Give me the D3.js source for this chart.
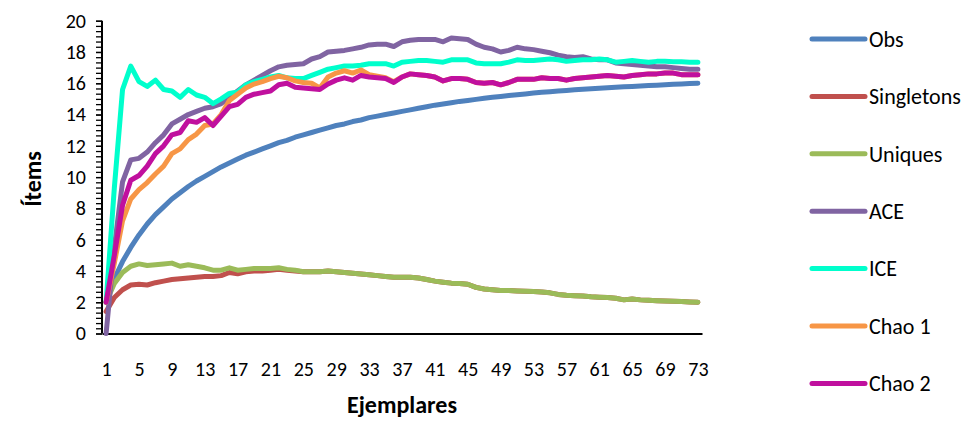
<!DOCTYPE html>
<html>
<head>
<meta charset="utf-8">
<script src="https://cdn.jsdelivr.net/npm/d3@7"></script>
<style>
	body { margin: 0; background: #fff; }
	text { font-family: Carlito, Lato, "Open Sans", sans-serif; fill: #000; }
	.axis-title { font-weight: bold; font-size: 24px; }
</style>
</head>
<body>
<div id="chart"></div>
<script>
// data
const ejemplares = d3.range(1, 74);
const xTickLabels = d3.range(1, 74, 4);
const yTickLabels = d3.range(0, 21, 2);
const seriesNames = ["Obs", "Singletons", "Uniques", "ACE", "ICE", "Chao 1", "Chao 2"];
const seriesColors = ["#4F81BD", "#C0504D", "#9BBB59", "#8064A2", "#00FFCC", "#F79646", "#C0109E"];

const obs = [2.0, 3.5, 4.6, 5.5, 6.3, 7.0, 7.6, 8.1, 8.6, 9.0, 9.4, 9.75, 10.05, 10.35, 10.65, 10.9, 11.15, 11.4, 11.6, 11.8,
	12.0, 12.2, 12.35, 12.55, 12.7, 12.85, 13.0, 13.15, 13.3, 13.4, 13.55, 13.65, 13.8, 13.9, 14.0, 14.1, 14.2, 14.3, 14.4, 14.5,
	14.6, 14.68, 14.76, 14.84, 14.9, 14.97, 15.04, 15.1, 15.16, 15.22, 15.27, 15.32, 15.37, 15.42, 15.46, 15.5, 15.54, 15.58, 15.62, 15.65,
	15.68, 15.71, 15.74, 15.77, 15.8, 15.83, 15.86, 15.88, 15.91, 15.94, 15.96, 15.98, 16.0];

const singletons = [1.4, 2.3, 2.8, 3.1, 3.15, 3.1, 3.25, 3.35, 3.45, 3.5, 3.55, 3.6, 3.65, 3.65, 3.7, 3.9, 3.82, 3.95, 4.0, 4.0,
	4.05, 4.1, 4.05, 4.0, 3.95, 3.95, 3.95, 4.0, 3.95, 3.9, 3.85, 3.8, 3.75, 3.7, 3.65, 3.6, 3.6, 3.6, 3.55, 3.45,
	3.35, 3.28, 3.22, 3.2, 3.15, 2.95, 2.85, 2.8, 2.75, 2.75, 2.72, 2.7, 2.68, 2.65, 2.6, 2.5, 2.45, 2.42, 2.4, 2.35,
	2.32, 2.3, 2.25, 2.15, 2.2, 2.15, 2.12, 2.1, 2.08, 2.06, 2.04, 2.02, 2.0];

const uniques = [2.0, 3.2, 3.9, 4.3, 4.45, 4.35, 4.4, 4.45, 4.5, 4.3, 4.4, 4.3, 4.2, 4.05, 4.05, 4.2, 4.05, 4.1, 4.15, 4.15,
	4.15, 4.2, 4.1, 4.05, 3.95, 3.95, 3.95, 4.0, 3.95, 3.9, 3.85, 3.8, 3.75, 3.7, 3.65, 3.6, 3.6, 3.6, 3.55, 3.45,
	3.35, 3.28, 3.22, 3.2, 3.15, 2.95, 2.85, 2.8, 2.75, 2.75, 2.72, 2.7, 2.68, 2.65, 2.6, 2.5, 2.45, 2.42, 2.4, 2.35,
	2.32, 2.3, 2.25, 2.15, 2.2, 2.15, 2.12, 2.1, 2.08, 2.06, 2.04, 2.02, 2.0];

const ace = [0, 5.5, 9.7, 11.1, 11.2, 11.6, 12.2, 12.7, 13.4, 13.7, 14.0, 14.2, 14.4, 14.5, 14.7, 15.1, 15.5, 15.9, 16.2, 16.5,
	16.8, 17.05, 17.15, 17.2, 17.25, 17.55, 17.7, 18.0, 18.05, 18.1, 18.2, 18.3, 18.45, 18.5, 18.5, 18.35, 18.65, 18.75, 18.8, 18.8,
	18.8, 18.65, 18.9, 18.85, 18.8, 18.5, 18.3, 18.2, 18.0, 18.1, 18.3, 18.2, 18.15, 18.05, 17.95, 17.8, 17.7, 17.65, 17.7, 17.55,
	17.5, 17.5, 17.3, 17.25, 17.2, 17.15, 17.1, 17.05, 17.05, 17.0, 16.95, 16.9, 16.9];

const ice = [2.0, 9.3, 15.6, 17.1, 16.1, 15.8, 16.2, 15.6, 15.5, 15.1, 15.6, 15.25, 15.1, 14.7, 15.0, 15.35, 15.45, 15.9, 16.1, 16.25,
	16.4, 16.5, 16.35, 16.3, 16.3, 16.5, 16.7, 16.9, 17.0, 17.1, 17.1, 17.15, 17.25, 17.25, 17.25, 17.1, 17.35, 17.4, 17.45, 17.45,
	17.4, 17.35, 17.5, 17.5, 17.5, 17.3, 17.25, 17.25, 17.25, 17.35, 17.5, 17.45, 17.45, 17.5, 17.55, 17.5, 17.4, 17.45, 17.5, 17.5,
	17.55, 17.5, 17.35, 17.4, 17.45, 17.4, 17.35, 17.4, 17.4, 17.38, 17.37, 17.35, 17.35];

const chao1 = [2.0, 4.5, 7.2, 8.6, 9.2, 9.65, 10.2, 10.7, 11.5, 11.8, 12.4, 12.75, 13.3, 13.4, 14.0, 14.9, 15.3, 15.7, 15.95, 16.1,
	16.3, 16.45, 16.35, 16.15, 16.05, 16.0, 15.7, 16.4, 16.65, 16.8, 16.65, 16.85, 16.55, 16.45, 16.35, 16.1, 16.4, 16.6, 16.55, 16.5,
	16.4, 16.15, 16.3, 16.3, 16.25, 16.05, 16.0, 16.05, 15.9, 16.05, 16.25, 16.25, 16.25, 16.35, 16.3, 16.3, 16.2, 16.3, 16.35, 16.4,
	16.45, 16.5, 16.45, 16.4, 16.5, 16.55, 16.6, 16.6, 16.65, 16.65, 16.55, 16.55, 16.55];

const chao2 = [2.0, 5.0, 8.2, 9.8, 10.1, 10.7, 11.5, 12.0, 12.7, 12.85, 13.6, 13.5, 13.8, 13.3, 13.9, 14.5, 14.65, 15.1, 15.3, 15.4,
	15.5, 15.9, 16.0, 15.75, 15.7, 15.65, 15.6, 15.95, 16.2, 16.35, 16.2, 16.5, 16.4, 16.35, 16.3, 16.05, 16.4, 16.6, 16.55, 16.5,
	16.4, 16.15, 16.3, 16.3, 16.25, 16.05, 16.0, 16.05, 15.9, 16.05, 16.25, 16.25, 16.25, 16.35, 16.3, 16.3, 16.2, 16.3, 16.35, 16.4,
	16.45, 16.5, 16.45, 16.4, 16.5, 16.55, 16.6, 16.6, 16.65, 16.65, 16.55, 16.55, 16.55];

const seriesValues = [obs, singletons, uniques, ace, ice, chao1, chao2];

const width = 971, height = 421;

function drawChart() {
	let svg = d3.select("#chart")
		.append("svg")
		.attr("width", width)
		.attr("height", height)
		.attr("viewBox", [0, 0, width, height]);

	let x = d3.scaleLinear()
		.domain([0.5, 73.5])
		.range([102, 702]);

	let y = d3.scaleLinear()
		.domain([0, 20])
		.range([333.5, 20.7]);

	// minor ticks on the value axis
	svg.append("g")
		.attr("transform", "translate(102,0)")
		.call(d3.axisLeft(y).tickValues(d3.range(0, 60.5, 1).map(d => d / 3)).tickSize(6).tickFormat(""))
		.call(g => g.select(".domain").remove())
		.call(g => g.selectAll(".tick line").attr("stroke", "#000").attr("stroke-width", 1.3));

	let yAxis = g => g
		.attr("transform", "translate(102,0)")
		.call(d3.axisLeft(y).tickValues(yTickLabels).tickSize(6).tickPadding(10))
		.call(g => g.select(".domain").attr("stroke", "#000").attr("stroke-width", 2).attr("d", `M0,${y(20)}V${y(0)}`))
		.call(g => g.selectAll(".tick line").attr("stroke-width", 1.3))
		.call(g => g.selectAll(".tick text").style("font-size", "20px").style("font-family", null));

	let xAxis = g => g
		.attr("transform", `translate(0,${y(0)})`)
		.call(d3.axisBottom(x).tickValues(xTickLabels).tickSize(0).tickPadding(28))
		.call(g => g.select(".domain").attr("stroke", "#000").attr("stroke-width", 2))
		.call(g => g.selectAll(".tick text").style("font-size", "20px").style("font-family", null));

	svg.append("g").call(yAxis);
	svg.append("g").call(xAxis);

	svg.append("text")
		.attr("class", "axis-title")
		.attr("text-anchor", "middle")
		.attr("transform", "translate(41,179) rotate(-90)")
		.text("Ítems");

	svg.append("text")
		.attr("class", "axis-title")
		.attr("text-anchor", "middle")
		.attr("x", 402)
		.attr("y", 413)
		.text("Ejemplares");

	let line = d3.line()
		.x((d, i) => x(ejemplares[i]))
		.y(d => y(d));

	let linesg = svg.append("g");
	seriesValues.forEach((vals, i) => {
		linesg.append("path")
			.datum(vals)
			.attr("fill", "none")
			.attr("stroke", seriesColors[i])
			.attr("stroke-width", 5)
			.attr("stroke-linejoin", "round")
			.attr("stroke-linecap", "round")
			.attr("d", line);
	});

	// legend
	let legend = svg.append("g")
		.selectAll("g")
		.data(seriesNames)
		.join("g")
		.attr("transform", (d, i) => `translate(812,${39 + i * 57.4})`);

	legend.append("line")
		.attr("x1", 0)
		.attr("x2", 53)
		.attr("stroke", (d, i) => seriesColors[i])
		.attr("stroke-width", 5)
		.attr("stroke-linecap", "round");

	legend.append("text")
		.attr("x", 57)
		.attr("dy", "0.35em")
		.style("font-size", "22px")
		.text(d => d);
}

drawChart();
</script>
</body>
</html>
